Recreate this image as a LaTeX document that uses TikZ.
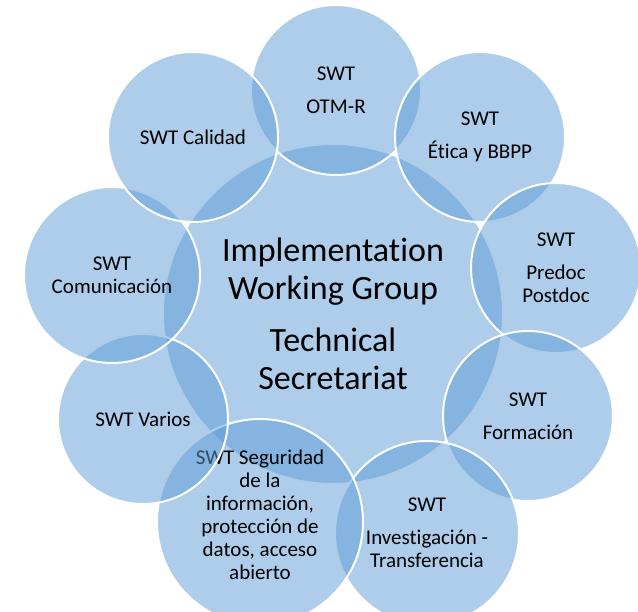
\documentclass[tikz,border=0pt]{standalone}
\usepackage{fontspec}
\setmainfont{Carlito}[Ligatures=NoCommon]
\usepackage{tikz}
\definecolor{swtblue}{HTML}{5B9BD5}
\def\swtsize{170pt}
\def\iwgsize{340pt}

\begin{document}
\begin{tikzpicture}[x=1pt,y=-1pt]
        \tikzstyle{bubble}=[circle,draw=white,line width=2pt,fill=swtblue,fill opacity=0.5,text opacity=1,inner sep=0pt,align=center]
        \tikzstyle{swt}=[bubble,minimum size=\swtsize,font=\fontsize{21}{23}\selectfont]
        \tikzstyle{iwg}=[bubble,minimum size=\iwgsize,font=\fontsize{34}{38}\selectfont]

        \useasboundingbox (0,0) rectangle (638,612);
        \clip (0,0) rectangle (638,612);

        % Draw the central group
        \node[iwg] (IWG) at (333,314) {Implementation\\Working Group\\[14pt]Technical\\Secretariat};

        % Draw the working teams round it
        \node[swt] (otm) at (336,90) {SWT\\[10pt]OTM-R};
        \node[swt] (etica) at (480,137) {SWT\\[10pt]Ética y BBPP};
        \node[swt] (predoc) at (556,268) {SWT\\[10pt]Predoc\\Postdoc};
        \node[swt] (formacion) at (528,416) {SWT\\[10pt]Formación};
        \node[swt,minimum size=184pt] (investigacion) at (427,533) {SWT\\[10pt]Investigación -\\Transferencia};
        \node[swt,minimum size=206pt] (seguridad) at (260,522) {SWT Seguridad\\de la\\información,\\protección de\\datos, acceso\\abierto\\[-8pt]};
        \node[swt] (varios) at (143,419) {SWT Varios};
        \node[swt,minimum size=176pt] (comunicacion) at (112,275) {SWT\\Comunicación};
        \node[swt] (calidad) at (193,137) {SWT Calidad};
\end{tikzpicture}
\end{document}
